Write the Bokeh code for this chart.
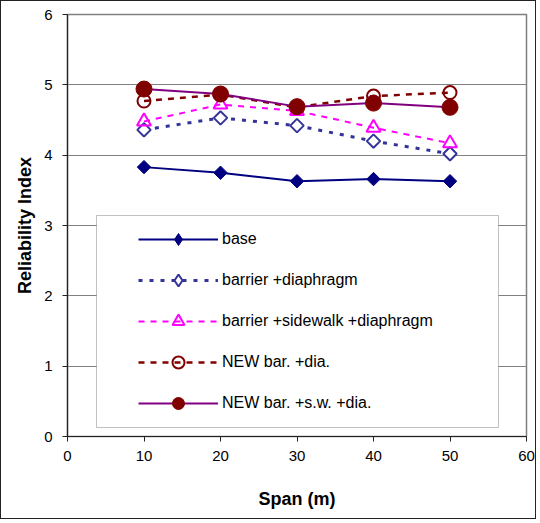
from bokeh.plotting import figure
from bokeh.models import Legend, LegendItem, BoxAnnotation, FixedTicker, Range1d
from bokeh.embed import file_html
from bokeh.resources import INLINE
import numpy as np

span = [10, 20, 30, 40, 50]
base = [3.83, 3.75, 3.63, 3.66, 3.63]
barrier_dia = [4.36, 4.53, 4.42, 4.20, 4.02]
barrier_sw_dia = [4.48, 4.72, 4.63, 4.39, 4.17]
new_bar_dia = [4.77, 4.86, 4.68, 4.84, 4.89]
new_bar_sw_dia = [4.94, 4.87, 4.69, 4.74, 4.68]

series_labels = [
    "base",
    "barrier +diaphragm",
    "barrier +sidewalk +diaphragm",
    "NEW bar. +dia.",
    "NEW bar. +s.w. +dia.",
]
x_ticks = [0, 10, 20, 30, 40, 50, 60]
y_ticks = [0, 1, 2, 3, 4, 5, 6]

FONT = "Liberation Sans"

p = figure(width=536, height=519, output_backend="svg", toolbar_location=None,
           x_range=Range1d(0, 60), y_range=Range1d(0, 6),
           min_border_left=66, min_border_right=11, min_border_top=13,
           min_border_bottom=84)
p.styles = {"border": "1px solid #222222"}
p.background_fill_color = "white"
p.border_fill_color = "white"
p.outline_line_color = "#808080"
p.outline_line_width = 1.5

p.xgrid.visible = False
p.ygrid.grid_line_color = "#808080"
p.ygrid.grid_line_width = 1
p.ygrid.ticker = FixedTicker(ticks=y_ticks)

for ax in (p.xaxis[0], p.yaxis[0]):
    ax.axis_line_color = "#222222"
    ax.axis_line_width = 1.2
    ax.major_tick_line_color = "#222222"
    ax.major_tick_in = 0
    ax.minor_tick_line_color = None
    ax.major_label_text_font = FONT
    ax.major_label_text_font_size = "15px"
    ax.major_label_text_color = "black"
    ax.axis_label_text_font = FONT
    ax.axis_label_text_font_style = "bold"
    ax.axis_label_text_font_size = "18px"
    ax.axis_label_text_color = "black"

p.xaxis[0].ticker = FixedTicker(ticks=x_ticks)
p.yaxis[0].ticker = FixedTicker(ticks=y_ticks)
p.xaxis[0].major_tick_out = 5
p.yaxis[0].major_tick_out = 5
p.xaxis[0].major_label_standoff = 9
p.yaxis[0].major_label_standoff = 10
p.xaxis[0].axis_label = "Span (m)"
p.yaxis[0].axis_label = "Reliability Index"
p.xaxis[0].axis_label_standoff = 25
p.yaxis[0].axis_label_standoff = 6

# legend frame (drawn behind the legend entries)
box = BoxAnnotation(left=3.79, right=56.34, bottom=0.128, top=3.142,
                    fill_color="white", fill_alpha=1.0,
                    line_color="#333333", line_width=1, level="underlay")
p.add_layout(box)

NAN = [np.nan]
items = []
# base
l1 = p.line(span, base, line_color="#000080", line_width=2)
p.scatter(span, base, marker="square", angle=np.pi / 4, size=9.5,
          fill_color="#000080", line_color="#000080")
g1 = p.scatter(NAN, NAN, marker="diamond", size=14,
               fill_color="#000080", line_color="#000080")
items.append(LegendItem(label=series_labels[0], renderers=[l1, g1]))
# barrier + diaphragm
l2 = p.line(span, barrier_dia, line_color="#333399", line_width=3, line_dash="4 7")
p.scatter(span, barrier_dia, marker="square", angle=np.pi / 4, size=9.5,
          fill_color="white", line_color="#333399", line_width=2)
g2 = p.scatter(NAN, NAN, marker="diamond", size=14,
               fill_color="white", line_color="#333399", line_width=2)
items.append(LegendItem(label=series_labels[1], renderers=[l2, g2]))
# barrier + sidewalk + diaphragm
l3 = p.line(span, barrier_sw_dia, line_color="#FF00FF", line_width=2, line_dash="6 6")
m3 = p.scatter(span, barrier_sw_dia, marker="triangle", size=14,
               fill_color=None, line_color="#FF00FF", line_width=2)
items.append(LegendItem(label=series_labels[2], renderers=[l3, m3]))
# NEW bar. + dia.
l4 = p.line(span, new_bar_dia, line_color="#800000", line_width=2.5, line_dash="6 6")
m4 = p.scatter(span, new_bar_dia, marker="circle", size=13,
               fill_color=None, line_color="#800000", line_width=2)
items.append(LegendItem(label=series_labels[3], renderers=[l4, m4]))
# NEW bar. + s.w. + dia.
l5 = p.line(span, new_bar_sw_dia, line_color="#800080", line_width=2)
m5 = p.scatter(span, new_bar_sw_dia, marker="circle", size=16,
               fill_color="#800000", line_color="#800000")
items.append(LegendItem(label=series_labels[4], renderers=[l5, m5]))

legend = Legend(items=items, location=(71, 18), padding=0, margin=0,
                spacing=11, glyph_width=80, glyph_height=30,
                label_standoff=4, label_text_font=FONT,
                label_text_font_size="16px", label_text_color="black",
                border_line_alpha=0, background_fill_alpha=0)
p.add_layout(legend, "center")

open("out.html", "w").write(file_html(p, INLINE))
